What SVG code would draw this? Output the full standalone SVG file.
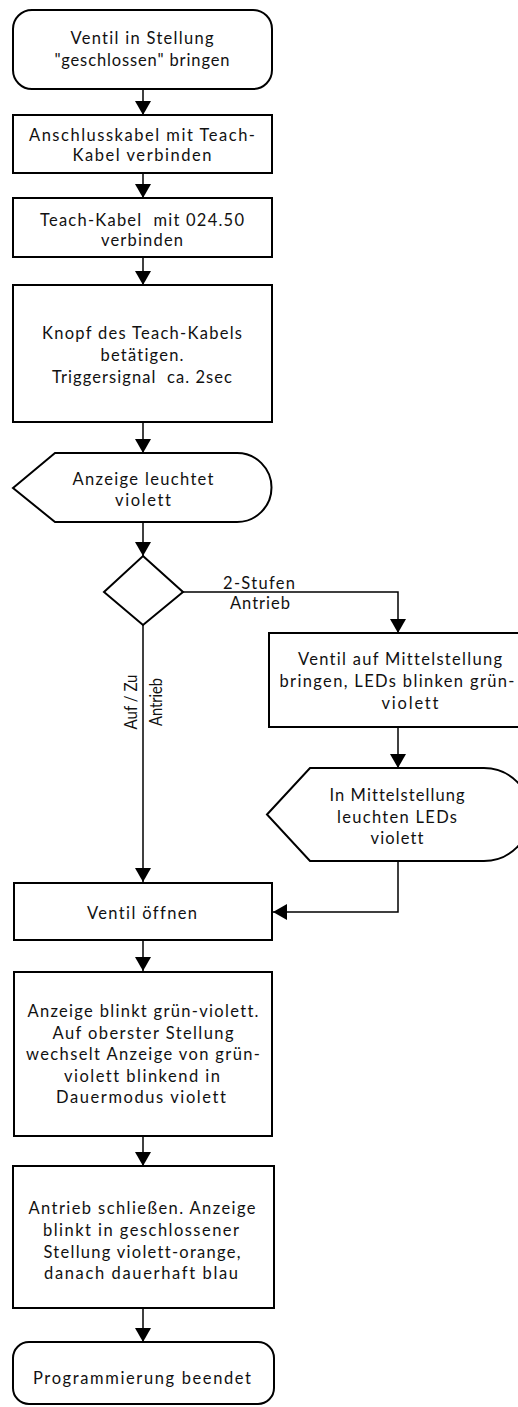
<svg xmlns="http://www.w3.org/2000/svg" width="518" height="1407" viewBox="0 0 518 1407">
<style>
.n{fill:#fff;stroke:#000;stroke-width:2}
.c{fill:none;stroke:#000;stroke-width:1.5}
text{font-family:Lato,"Open Sans","Liberation Sans",sans-serif;font-size:16.5px;fill:#111;text-anchor:middle;font-variant-ligatures:none;font-feature-settings:"liga" 0,"clig" 0,"dlig" 0}
</style>
<defs>
<marker id="ah" markerUnits="userSpaceOnUse" markerWidth="15" markerHeight="16" refX="14" refY="8" orient="auto">
<path d="M0,0 L14,8 L0,16 Z" fill="#000"/>
</marker>
</defs>
<rect width="518" height="1407" fill="#fff"/>
<g id="connectors">
<path class="c" d="M143,89 V115" marker-end="url(#ah)"/>
<path class="c" d="M143,173 V198" marker-end="url(#ah)"/>
<path class="c" d="M143,257 V285" marker-end="url(#ah)"/>
<path class="c" d="M143,422 V453" marker-end="url(#ah)"/>
<path class="c" d="M143,522 V556" marker-end="url(#ah)"/>
<path class="c" d="M183,592 H398 V633" marker-end="url(#ah)"/>
<path class="c" d="M143,625 V882" marker-end="url(#ah)"/>
<path class="c" d="M398,727 V768" marker-end="url(#ah)"/>
<path class="c" d="M398,861 V912 H273" marker-end="url(#ah)"/>
<path class="c" d="M143,940 V971" marker-end="url(#ah)"/>
<path class="c" d="M143,1136 V1166" marker-end="url(#ah)"/>
<path class="c" d="M143,1308 V1342" marker-end="url(#ah)"/>
<text x="259" y="589" textLength="72" lengthAdjust="spacing">2-Stufen</text>
<text x="260" y="609" textLength="60" lengthAdjust="spacing">Antrieb</text>
<text transform="translate(132,702) rotate(-90)" x="0" y="5" textLength="55" lengthAdjust="spacingAndGlyphs">Auf / Zu</text>
<text transform="translate(157,702) rotate(-90)" x="0" y="5" textLength="48" lengthAdjust="spacingAndGlyphs">Antrieb</text>
</g>
<g id="start">
<rect class="n" x="13" y="10" width="259" height="79" rx="19"/>
<text x="142" y="44" textLength="143" lengthAdjust="spacing">Ventil in Stellung</text>
<text x="142" y="66" textLength="175" lengthAdjust="spacing">"geschlossen" bringen</text>
</g>
<g id="box2">
<rect class="n" x="13" y="115" width="259" height="58"/>
<text x="142" y="141" textLength="226" lengthAdjust="spacing">Anschlusskabel mit Teach-</text>
<text x="142" y="161" textLength="139" lengthAdjust="spacing">Kabel verbinden</text>
</g>
<g id="box3">
<rect class="n" x="13" y="198" width="259" height="59"/>
<text x="142" y="226" textLength="204" lengthAdjust="spacing" xml:space="preserve">Teach-Kabel  mit 024.50</text>
<text x="142" y="246" textLength="82" lengthAdjust="spacing">verbinden</text>
</g>
<g id="box4">
<rect class="n" x="13" y="285" width="259" height="137"/>
<text x="142" y="339" textLength="200" lengthAdjust="spacing">Knopf des Teach-Kabels</text>
<text x="142" y="361" textLength="83" lengthAdjust="spacing">betätigen.</text>
<text x="142" y="383" textLength="180" lengthAdjust="spacing" xml:space="preserve">Triggersignal  ca. 2sec</text>
</g>
<g id="display1">
<path class="n" d="M13,488 L55,453 L237,453 A34.5,34.5 0 0 1 237,522 L55,522 Z"/>
<text x="143" y="485" textLength="141" lengthAdjust="spacing">Anzeige leuchtet</text>
<text x="143" y="506" textLength="56" lengthAdjust="spacing">violett</text>
</g>
<g id="decision">
<path class="n" d="M143,556 L183,592 L143,625 L104,592 Z"/>
</g>
<g id="box5">
<rect class="n" x="269" y="633" width="262" height="94"/>
<text x="400" y="665" textLength="204" lengthAdjust="spacing">Ventil auf Mittelstellung</text>
<text x="397" y="687" textLength="235" lengthAdjust="spacing">bringen, LEDs blinken grün-</text>
<text x="410" y="709" textLength="57" lengthAdjust="spacing">violett</text>
</g>
<g id="display2">
<path class="n" d="M267,814.5 L310,768 L484,768 A46.5,46.5 0 0 1 484,861 L310,861 Z"/>
<text x="397" y="801" textLength="135" lengthAdjust="spacing">In Mittelstellung</text>
<text x="397" y="823" textLength="120" lengthAdjust="spacing">leuchten LEDs</text>
<text x="397" y="844" textLength="53" lengthAdjust="spacing">violett</text>
</g>
<g id="box6">
<rect class="n" x="14" y="883" width="258" height="57"/>
<text x="142" y="919" textLength="110" lengthAdjust="spacing">Ventil öffnen</text>
</g>
<g id="box7">
<rect class="n" x="14" y="972" width="258" height="164"/>
<text x="143" y="1017" textLength="231" lengthAdjust="spacing">Anzeige blinkt grün-violett.</text>
<text x="143" y="1039" textLength="181" lengthAdjust="spacing">Auf oberster Stellung</text>
<text x="143" y="1060" textLength="234" lengthAdjust="spacing">wechselt Anzeige von grün-</text>
<text x="142" y="1082" textLength="156" lengthAdjust="spacing">violett blinkend in</text>
<text x="141" y="1103" textLength="170" lengthAdjust="spacing">Dauermodus violett</text>
</g>
<g id="box8">
<rect class="n" x="13" y="1166" width="261" height="142"/>
<text x="142" y="1214" textLength="227" lengthAdjust="spacing">Antrieb schließen. Anzeige</text>
<text x="141" y="1236" textLength="196" lengthAdjust="spacing">blinkt in geschlossener</text>
<text x="142" y="1258" textLength="197" lengthAdjust="spacing">Stellung violett-orange,</text>
<text x="141" y="1279" textLength="194" lengthAdjust="spacing">danach dauerhaft blau</text>
</g>
<g id="end">
<rect class="n" x="13" y="1342" width="261" height="62" rx="16"/>
<text x="142" y="1384" textLength="218" lengthAdjust="spacing">Programmierung beendet</text>
</g>
</svg>
